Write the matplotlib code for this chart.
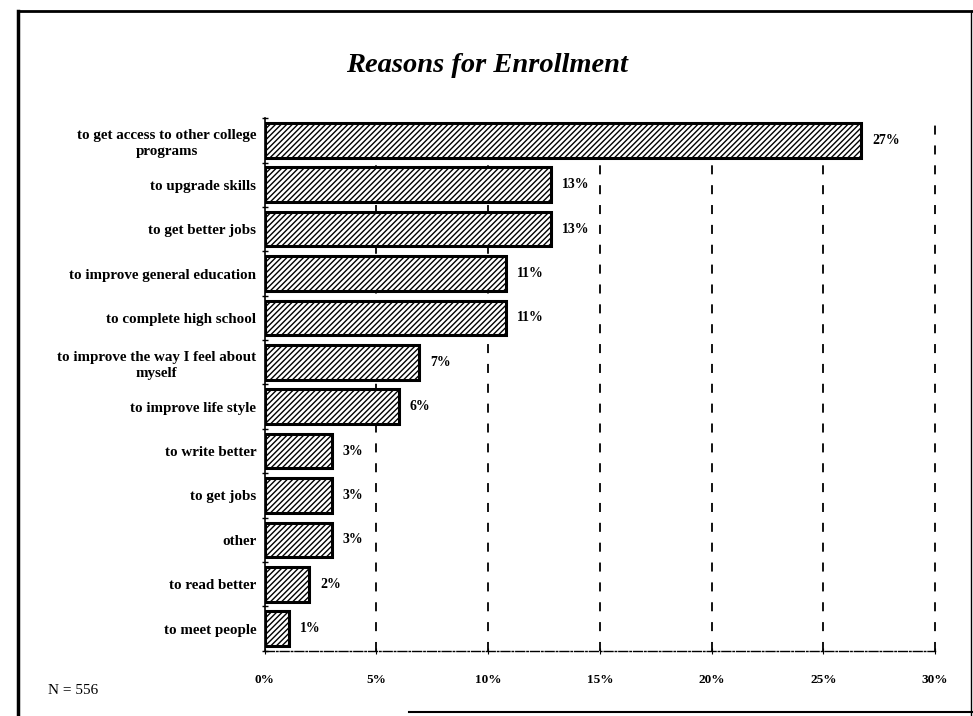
import matplotlib
matplotlib.use('Agg')
import matplotlib.pyplot as plt
import numpy as np

reasons = [
    "to get access to other college\nprograms",
    "to upgrade skills",
    "to get better jobs",
    "to improve general education",
    "to complete high school",
    "to improve the way I feel about\nmyself",
    "to improve life style",
    "to write better",
    "to get jobs",
    "other",
    "to read better",
    "to meet people",
]
shares = [26.7, 12.8, 12.8, 10.8, 10.8, 6.9, 6.0, 3.0, 3.0, 3.0, 2.0, 1.1]
share_labels = ["27%", "13%", "13%", "11%", "11%", "7%", "6%", "3%", "3%", "3%", "2%", "1%"]
xticks = [0, 5, 10, 15, 20, 25, 30]

plt.rcParams['font.family'] = ['Liberation Serif', 'DejaVu Serif']
plt.rcParams['hatch.linewidth'] = 1.0

fig = plt.figure(figsize=(9.73, 7.16), dpi=100)
ax = fig.add_axes([0.272, 0.091, 0.689, 0.744])

y = np.arange(len(reasons))
ax.barh(y, shares, height=0.78, color='white', edgecolor='black',
        linewidth=2.2, hatch='//////', zorder=3)
for yi, v, lab in zip(y, shares, share_labels):
    ax.text(v + 0.5, yi, lab, va='center', ha='left', fontsize=10,
            fontweight='bold')

ax.set_ylim(len(reasons) - 0.5, -0.5)
ax.set_xlim(0, 30)
ax.set_yticks(y)
ax.set_yticklabels(reasons, fontsize=10.8, fontweight='bold',
                   multialignment='center', linespacing=1.3)
ax.set_yticks(np.arange(-0.5, len(reasons)), minor=True)
ax.tick_params(axis='y', which='major', length=0, pad=6)
ax.tick_params(axis='y', which='minor', length=5, direction='inout', width=1)

ax.set_xticks(xticks)
ax.set_xticklabels([f"{t}%" for t in xticks], fontsize=9.5, fontweight='bold')
ax.tick_params(axis='x', length=5, direction='inout', pad=14)

for t in xticks[1:]:
    ax.axvline(t, color='black', linestyle=(0, (5, 6)), linewidth=1.3,
               zorder=1, clip_on=False)

for side in ['top', 'right']:
    ax.spines[side].set_visible(False)
ax.spines['left'].set_linewidth(1.2)
ax.spines['bottom'].set_linestyle('-.')
ax.spines['bottom'].set_linewidth(1.0)

fig.text(0.5, 0.909, "Reasons for Enrollment", ha='center', va='center',
         fontsize=20.5, style='italic', fontweight='bold')
fig.text(0.049, 0.036, "N = 556", ha='left', va='center', fontsize=11)

# page frame like the scanned border
fig.add_artist(plt.Line2D([0.018, 0.018], [0.0, 0.985], color='black', lw=2.5))
fig.add_artist(plt.Line2D([0.018, 0.999], [0.985, 0.985], color='black', lw=2))
fig.add_artist(plt.Line2D([0.998, 0.998], [0.985, 0.0], color='black', lw=1))
fig.add_artist(plt.Line2D([0.42, 1.0], [0.006, 0.006], color='black', lw=1.5))

fig.savefig("out.png", dpi=100)
